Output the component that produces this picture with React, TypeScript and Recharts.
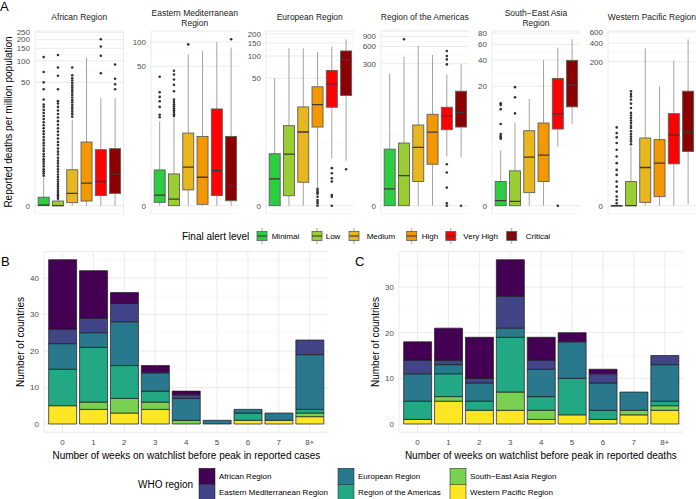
import React from "react";
import { ComposedChart, BarChart, Bar, XAxis, YAxis, CartesianGrid } from "recharts";

// ---------- Panel A data ----------
const alertLevels = ["Minimal", "Low", "Medium", "High", "Very High", "Critical"];
const alertColors = ["#2ecc40", "#9acd32", "#e8b61e", "#f39800", "#ff0000", "#8b0000"];

const facetTitles = [
  ["African Region"],
  ["Eastern Mediterranean", "Region"],
  ["European Region"],
  ["Region of the Americas"],
  ["South\u2212East Asia", "Region"],
  ["Western Pacific Region"],
];

// [lower whisker, q1, median, q3, upper whisker] per alert level
const africanBoxes = [
  [0, 0, 0.02, 0.31, 1.43],
  [0, 0, 0, 0.16, 0.2],
  [0, 0.1, 0.48, 2.14, 14.6],
  [0, 0.16, 1.05, 6.6, 111],
  [0, 0.38, 1.16, 4.96, 30],
  [0, 0.48, 1.76, 5.15, 30],
];
const africanOutliers = [
  [1.6, 1.8, 2.0, 2.2, 2.5, 2.8, 3.1, 3.4, 3.8, 4.2, 4.7, 5.2, 5.8, 6.4, 7.1, 7.9, 8.8, 9.7, 10.8, 12, 13.3, 14.8, 16.4, 18.2, 20.2, 22.4, 24.2, 28.5, 40, 50, 70, 113],
  [0.25, 0.32, 0.4, 0.5, 0.6, 0.72, 0.85, 1.0, 1.15, 1.3, 1.5, 1.7, 1.95, 2.2, 2.5, 2.85, 3.2, 3.6, 4.1, 4.6, 5.2, 5.9, 6.6, 7.5, 8.5, 9.6, 10.8, 12.2, 13.8, 15.6, 17.6, 19.8, 22.3, 25, 27, 40, 62, 81, 121],
  [16, 17.5, 19, 20.5, 22, 24, 26, 28, 30.5, 33, 36, 39, 42, 45, 49, 53, 57, 63, 81],
  [],
  [67, 118, 159, 200],
  [40, 47, 56, 89],
];
const africanTicks = [0, 50, 100, 150, 200, 250];

const eastMedBoxes = [
  [0, 0.099, 0.35, 1.74, 9.8],
  [0, 0, 0.2, 1.45, 10.8],
  [0, 0.56, 1.96, 6.75, 70],
  [0, 0.04, 1.23, 6.05, 77],
  [0, 0.33, 1.69, 14.3, 100],
  [0, 0.15, 0.76, 6.05, 85],
];
const eastMedOutliers = [
  [11.1, 12, 15.2, 18, 20.5, 23.5, 37],
  [11.5, 12.2, 13, 13.8, 14.6, 15.5, 16.5, 17.6, 18.9, 24.2, 29.3, 34.1, 39.4, 44],
  [93.5],
  [],
  [],
  [108],
];
const eastMedTicks = [0, 50, 100];

const europeanBoxes = [
  [0, 0, 1.28, 3.96, 49.6],
  [0, 0.36, 3.9, 10.8, 127],
  [0, 1.06, 8.7, 20, 127],
  [0.77, 10.3, 21.6, 38.1, 114.5],
  [3.3, 19.8, 41.9, 63.8, 134],
  [3, 28.9, 90.2, 117, 168],
];
const europeanOutliers = [
  [],
  [],
  [],
  [0.68, 0.59, 0.51, 0.44, 0.32, 0.19, 0.13, 0.07, 0],
  [2.18, 1.72, 1.33, 1.1, 0.39, 0.32, 0],
  [2.08],
];
const europeanTicks = [0, 50, 100, 150, 200];

const americasBoxes = [
  [0, 0, 0.96, 8.72, 202],
  [0, 0, 2.36, 11.4, 398],
  [0, 1.64, 9.4, 24.6, 613],
  [0, 4.3, 18.3, 38.4, 426],
  [6.2, 20.2, 36.3, 51.3, 194.5],
  [5.94, 22.6, 41.7, 98.7, 292],
];
const americasOutliers = [
  [],
  [802],
  [],
  [],
  [500, 409, 357, 292, 4.3, 2.79, 1.07, 0.1, 0],
  [0],
];
const americasTicks = [0, 300, 600, 900];

const seAsiaBoxes = [
  [0, 0, 0.137, 0.85, 3.1],
  [0, 0, 0.117, 1.43, 7.3],
  [0, 0.394, 2.44, 5.75, 14.2],
  [0, 0.85, 2.63, 7.22, 39.8],
  [3.5, 6.05, 9.35, 24.6, 55],
  [7, 11.4, 20.5, 39.5, 68.3],
];
const seAsiaOutliers = [
  [4.5, 4.7, 4.9, 5.2, 7.0, 10.7, 12.0, 12.6],
  [9.5, 14.8, 19.5],
  [],
  [],
  [0],
  [],
];
const seAsiaTicks = [0, 20, 40, 60, 80];

const wPacificBoxes = [
  [0, 0, 0, 0, 0],
  [0, 0, 0, 1.43, 7.87],
  [0, 0.13, 3.08, 11.1, 328],
  [0, 0.395, 3.79, 10.4, 80.7],
  [0, 3.67, 12.5, 28.7, 210],
  [0.06, 6.37, 13.9, 66.9, 458],
];
const wPacificOutliers = [
  [0.09, 0.23, 0.4, 0.68, 1.02, 1.43, 2.11, 2.74, 3.79, 5.13, 6.84, 9.04, 11.4, 13.5, 16.9],
  [8.6, 9.7, 10.8, 11.8, 13, 14.5, 16.5, 18, 20, 22, 24.3, 26.8, 29.5, 35.6, 42, 48.9, 55, 60, 66.9],
  [],
  [],
  [],
  [],
];
const wPacificTicks = [0, 200, 400, 600];

const facetBoxes = [africanBoxes, eastMedBoxes, europeanBoxes, americasBoxes, seAsiaBoxes, wPacificBoxes];
const facetOutliers = [africanOutliers, eastMedOutliers, europeanOutliers, americasOutliers, seAsiaOutliers, wPacificOutliers];
const facetTicks = [africanTicks, eastMedTicks, europeanTicks, americasTicks, seAsiaTicks, wPacificTicks];

// ---------- Panels B / C data ----------
const weekCats = ["0", "1", "2", "3", "4", "5", "6", "7", "8+"];
const whoRegions = [
  "African Region",
  "Eastern Mediterranean Region",
  "European Region",
  "Region of the Americas",
  "South\u2212East Asia Region",
  "Western Pacific Region",
];
const whoColors = ["#440154", "#414487", "#2a788e", "#22a884", "#7ad151", "#fde725"];

const casesAfrican = [19, 13, 3, 2, 1, 0, 0, 0, 0];
const casesEastMed = [4, 4, 5, 0, 1, 0, 0, 0, 4];
const casesEuropean = [7, 4, 12, 5, 6, 1, 1, 2, 15];
const casesAmericas = [10, 15, 9, 3, 0, 0, 2, 0, 1];
const casesSeAsia = [0, 2, 4, 2, 1, 0, 0, 0, 1];
const casesWPacific = [5, 4, 3, 4, 0, 0, 1, 1, 2];

const deathsAfrican = [4, 7, 9, 8, 5, 2, 1, 0, 0];
const deathsEastMed = [3, 1, 1, 7, 2, 0, 2, 0, 2];
const deathsEuropean = [6, 2, 4, 2, 6, 8, 6, 4, 8];
const deathsAmericas = [4, 5, 2, 12, 3, 8, 2, 0, 1];
const deathsSeAsia = [0, 1, 0, 4, 2, 0, 0, 1, 1];
const deathsWPacific = [1, 5, 3, 3, 1, 2, 1, 2, 3];

const casesTicks = [0, 10, 20, 30, 40];
const deathsTicks = [0, 10, 20, 30];

// ---------- helpers ----------
const tf = (v: number) => Math.log10(v + 1);
const inv = (v: number) => Math.pow(10, v) - 1;

const FONT = '"Liberation Sans", Arial, Helvetica, sans-serif';
const TICK = { fontSize: 8, fill: "#4d4d4d" };

function BoxShape(props: any) {
  const { x, y, width, height, payload } = props;
  if (x == null || y == null || !payload) return null;
  const top = Math.min(y, y + height);
  const bot = Math.max(y, y + height);
  const [a, b] = payload.span;
  const py = (v: number) => (b === a ? bot : bot - ((v - a) / (b - a)) * (bot - top));
  const [w0, q1, md, q3, w1] = payload.stats;
  const cx = x + width / 2;
  const boxTop = py(q3);
  const boxBot = py(q1);
  return (
    <g>
      <line x1={cx} x2={cx} y1={py(w1)} y2={boxTop} stroke="#a3a3a3" strokeWidth={1} />
      <line x1={cx} x2={cx} y1={boxBot} y2={py(w0)} stroke="#a3a3a3" strokeWidth={1} />
      <rect
        x={x}
        y={boxTop}
        width={width}
        height={Math.max(boxBot - boxTop, 0.5)}
        fill={payload.color}
        stroke="#5e5e5e"
        strokeWidth={0.9}
      />
      <line x1={x} x2={x + width} y1={py(md)} y2={py(md)} stroke="#3a3a3a" strokeWidth={1.3} />
      {payload.outs.map((o: number, k: number) => (
        <circle key={k} cx={cx} cy={py(o)} r={1.3} fill="#333" />
      ))}
    </g>
  );
}

const PLOT_LEFTS = [35, 150.5, 265.5, 380.5, 491.7, 607.7];
const PLOT_W = 88.5;
const AXIS_W = 32;

function Facet({ idx }: { idx: number }) {
  const boxes = facetBoxes[idx];
  const outs = facetOutliers[idx];
  const rows = alertLevels.map((lvl, i) => {
    const all = [...boxes[i], ...outs[i]];
    const lo = Math.min(...all);
    const hi = Math.max(...all);
    return {
      level: lvl,
      span: [tf(lo), tf(hi)],
      stats: boxes[i].map(tf),
      outs: outs[i].map(tf),
      color: alertColors[i],
    };
  });
  const maxT = Math.max(...rows.map((r) => r.span[1]));
  const domain = [-0.05 * maxT, 1.05 * maxT];
  const ticksT = facetTicks[idx].map(tf);
  const minors: number[] = [];
  for (let k = 0; k < ticksT.length - 1; k++) minors.push((ticksT[k] + ticksT[k + 1]) / 2);
  const lastGap = ticksT[ticksT.length - 1] - ticksT[ticksT.length - 2];
  const ext = ticksT[ticksT.length - 1] + lastGap / 2;
  if (ext < domain[1]) minors.push(ext);
  return (
    <div style={{ position: "absolute", left: PLOT_LEFTS[idx] - AXIS_W, top: 0 }}>
      <ComposedChart
        width={AXIS_W + PLOT_W}
        height={214}
        data={rows}
        margin={{ top: 31, right: 0, bottom: 0, left: 0 }}
        barCategoryGap="12.5%"
      >
        <CartesianGrid stroke="#f3f3f3" strokeWidth={0.6} horizontalValues={minors} vertical={false} />
        <CartesianGrid stroke="#ebebeb" strokeWidth={1} />
        <XAxis
          dataKey="level"
          type="category"
          height={0}
          tick={false}
          axisLine={false}
          tickLine={false}
          padding={{ left: 1.4, right: 1.4 }}
        />
        <YAxis
          type="number"
          domain={domain}
          ticks={ticksT}
          interval={0}
          allowDataOverflow
          width={AXIS_W}
          axisLine={false}
          tickLine={false}
          tickSize={0}
          tickMargin={5}
          tick={TICK}
          tickFormatter={(v: number) => String(Math.round(inv(v)))}
        />
        <Bar dataKey="span" isAnimationActive={false} shape={<BoxShape />} />
      </ComposedChart>
    </div>
  );
}

function StackPanel({ left, rows, ticks, domain, minors }: any) {
  const keys = ["wp", "sea", "amr", "eur", "emr", "afr"];
  const colorOf: Record<string, string> = {
    afr: whoColors[0],
    emr: whoColors[1],
    eur: whoColors[2],
    amr: whoColors[3],
    sea: whoColors[4],
    wp: whoColors[5],
  };
  return (
    <div style={{ position: "absolute", left, top: 240 }}>
      <BarChart
        width={30 + 284.3}
        height={212.2}
        data={rows}
        margin={{ top: 11.5, right: 0, bottom: 0, left: 0 }}
        barCategoryGap="5%"
      >
        <CartesianGrid stroke="#f3f3f3" strokeWidth={0.6} horizontalValues={minors} vertical={false} />
        <CartesianGrid stroke="#ebebeb" strokeWidth={1} />
        <XAxis
          dataKey="week"
          type="category"
          height={20}
          interval={0}
          axisLine={false}
          tickLine={false}
          tickSize={0}
          tickMargin={7}
          tick={TICK}
          padding={{ left: 3.1, right: 3.1 }}
        />
        <YAxis
          type="number"
          domain={domain}
          ticks={ticks}
          interval={0}
          allowDataOverflow
          width={30}
          axisLine={false}
          tickLine={false}
          tickSize={0}
          tickMargin={5}
          tick={TICK}
        />
        {keys.map((k) => (
          <Bar
            key={k}
            dataKey={k}
            stackId="s"
            fill={colorOf[k]}
            stroke="#1a1a1a"
            strokeWidth={0.7}
            isAnimationActive={false}
          />
        ))}
      </BarChart>
    </div>
  );
}

const casesRows = weekCats.map((w, i) => ({
  week: w,
  afr: casesAfrican[i],
  emr: casesEastMed[i],
  eur: casesEuropean[i],
  amr: casesAmericas[i],
  sea: casesSeAsia[i],
  wp: casesWPacific[i],
}));
const deathsRows = weekCats.map((w, i) => ({
  week: w,
  afr: deathsAfrican[i],
  emr: deathsEastMed[i],
  eur: deathsEuropean[i],
  amr: deathsAmericas[i],
  sea: deathsSeAsia[i],
  wp: deathsWPacific[i],
}));

const alertLegendKeyX = [262, 317, 354, 411.7, 450.8, 511.7];
const alertLegendTextX = [271.7, 325.7, 366.7, 421.7, 463.3, 525.7];
const whoLegendColX = [199, 338, 450];
const whoLegendRowY = [468.3, 484.3];

export default function App() {
  return (
    <div
      style={{
        position: "absolute",
        left: 0,
        top: 0,
        width: 696,
        height: 499,
        background: "#fff",
        overflow: "hidden",
        fontFamily: FONT,
      }}
    >
      {facetBoxes.map((_, i) => (
        <Facet key={i} idx={i} />
      ))}
      <StackPanel left={14.2} rows={casesRows} ticks={casesTicks} domain={[-2.25, 47.25]} minors={[5, 15, 25, 35, 45]} />
      <StackPanel left={368.8} rows={deathsRows} ticks={deathsTicks} domain={[-1.8, 37.8]} minors={[5, 15, 25, 35]} />

      <svg
        width={696}
        height={499}
        style={{ position: "absolute", left: 0, top: 0, pointerEvents: "none", fontFamily: FONT }}
      >
        {/* panel letters */}
        <text x={0} y={11} fontSize={13} fill="#000">A</text>
        <text x={1} y={266} fontSize={13} fill="#000">B</text>
        <text x={355} y={266} fontSize={13} fill="#000">C</text>

        {/* facet strip titles */}
        {facetTitles.map((lines, i) =>
          lines.map((ln, j) => (
            <text
              key={i + "-" + j}
              x={PLOT_LEFTS[i] + PLOT_W / 2}
              y={(lines.length === 1 ? 17.3 : j === 0 ? 13.3 : 22.7) + 3}
              fontSize={8.5}
              fill="#1a1a1a"
              textAnchor="middle"
            >
              {ln}
            </text>
          ))
        )}

        {/* axis titles */}
        <text transform="translate(11.5,122) rotate(-90)" fontSize={10} textAnchor="middle" fill="#000">
          Reported deaths per million population
        </text>
        <text transform="translate(24,342) rotate(-90)" fontSize={10} textAnchor="middle" fill="#000">
          Number of countries
        </text>
        <text transform="translate(378.5,342) rotate(-90)" fontSize={10} textAnchor="middle" fill="#000">
          Number of countries
        </text>
        <text x={186.4} y={458.5} fontSize={10} textAnchor="middle" fill="#000">
          Number of weeks on watchlist before peak in reported cases
        </text>
        <text x={540.8} y={458.5} fontSize={10} textAnchor="middle" fill="#000">
          Number of weeks on watchlist before peak in reported deaths
        </text>

        {/* alert level legend */}
        <text x={182} y={239.5} fontSize={10} fill="#000">Final alert level</text>
        {alertLevels.map((lvl, i) => (
          <g key={lvl}>
            <line x1={alertLegendKeyX[i]} x2={alertLegendKeyX[i]} y1={228} y2={244} stroke="#a3a3a3" strokeWidth={1} />
            <rect
              x={alertLegendKeyX[i] - 5}
              y={231.5}
              width={10}
              height={9}
              fill={alertColors[i]}
              stroke="#5e5e5e"
              strokeWidth={0.8}
            />
            <line x1={alertLegendKeyX[i] - 5} x2={alertLegendKeyX[i] + 5} y1={236} y2={236} stroke="#3a3a3a" strokeWidth={1.1} />
            <text x={alertLegendTextX[i]} y={239} fontSize={8} fill="#000">
              {lvl}
            </text>
          </g>
        ))}

        {/* WHO region legend */}
        <text x={193} y={487.5} fontSize={10} fill="#000" textAnchor="end">WHO region</text>
        {whoRegions.map((r, i) => {
          const col = Math.floor(i / 2);
          const row = i % 2;
          return (
            <g key={r}>
              <rect
                x={whoLegendColX[col]}
                y={whoLegendRowY[row]}
                width={16}
                height={16}
                fill={whoColors[i]}
                stroke="#1a1a1a"
                strokeWidth={0.5}
              />
              <text x={whoLegendColX[col] + 20} y={whoLegendRowY[row] + 11} fontSize={8} fill="#000">
                {r}
              </text>
            </g>
          );
        })}
      </svg>
    </div>
  );
}
